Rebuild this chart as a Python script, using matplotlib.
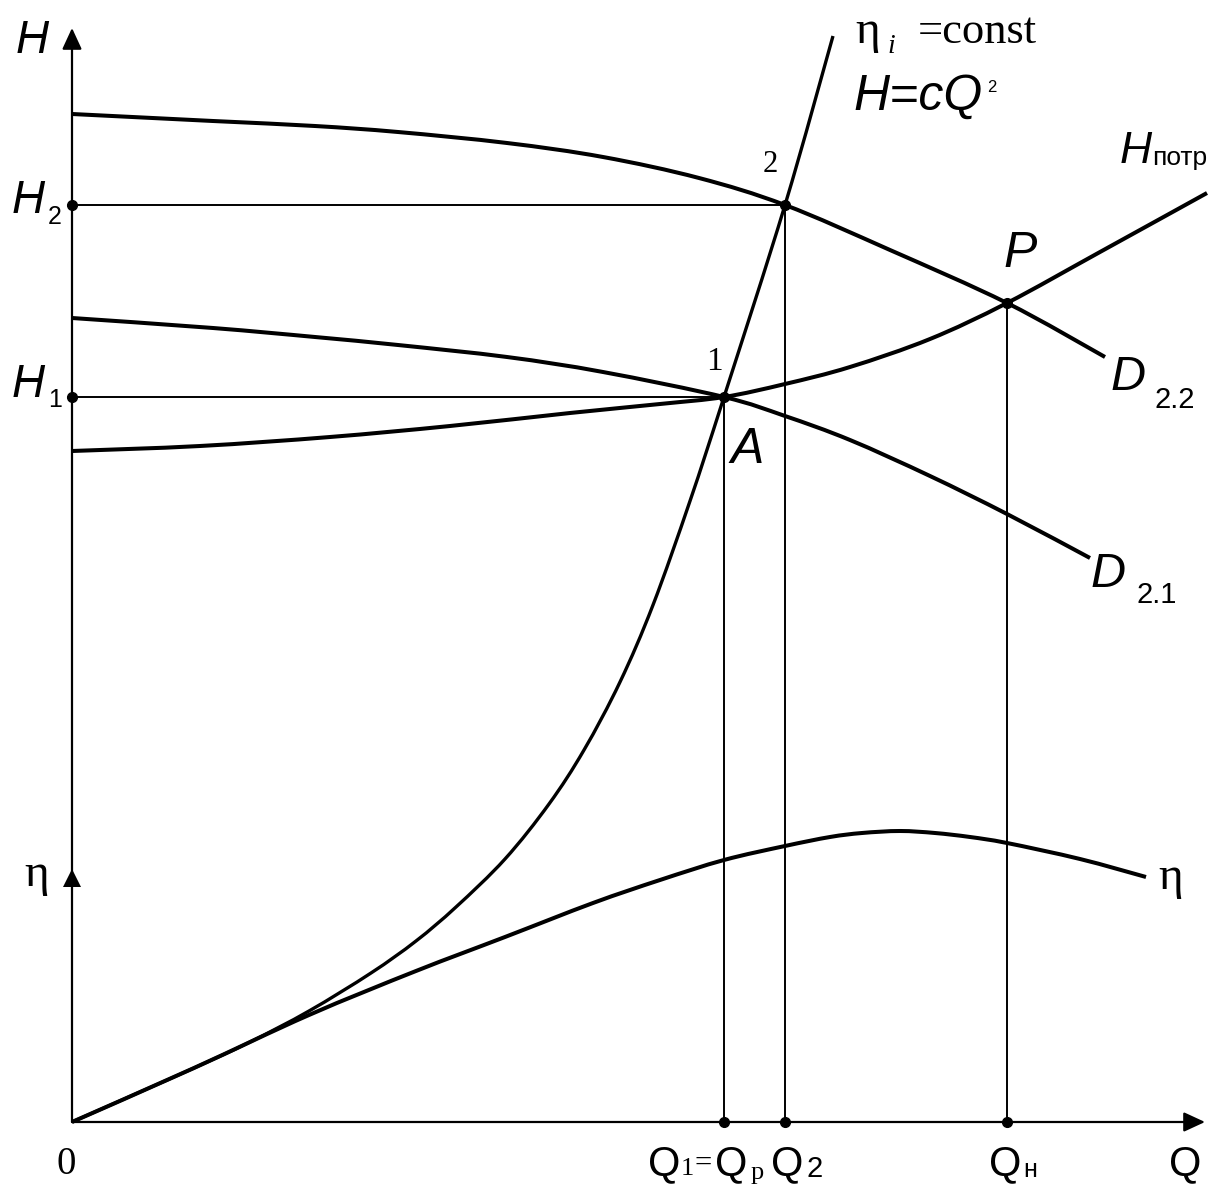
import matplotlib
matplotlib.use("Agg")
import matplotlib.pyplot as plt
from matplotlib.path import Path
from matplotlib.patches import PathPatch

# pump head curves for two impeller diameters (Q, H)
d22_q = [0, 141, 243, 326, 435, 531, 627, 713, 818, 935, 1033]
d22_h = [1008, 1001, 996, 990, 979, 965, 944, 917, 872, 819, 765]

d21_q = [0, 141, 243, 326, 435, 531, 652, 713, 778, 858, 935, 1018]
d21_h = [804, 794, 785, 777, 765, 750, 725, 706, 682, 646, 608, 564]

# required head of the network
hpotr_q = [0, 128, 258, 378, 498, 588, 652, 713, 778, 858, 935, 1028, 1135]
hpotr_h = [671, 676, 685, 696, 709, 718, 725, 738, 755, 783, 819, 870, 929]

# similarity parabola eta_i = const, H = cQ^2
sim_q = [0, 68, 122, 178, 237, 299, 344, 384, 433, 477, 512, 548, 581, 618, 652, 713, 761]
sim_h = [0, 30, 54, 80, 111, 149, 181, 215, 263, 318, 372, 440, 517, 621, 725, 917, 1086]

# efficiency curve
eta_q = [0, 122, 237, 344, 433, 521, 588, 652, 713, 758, 790, 828, 863, 898, 935, 1008, 1074]
eta_h = [0, 54, 107, 151, 185, 219, 242, 262, 276, 285, 289, 291, 289, 285, 279, 263, 245]

# operating points
q1, h1 = 652, 725
q2, h2 = 713, 917
qn, hp = 935, 819

SANS = "Liberation Sans"
SERIF = "Liberation Serif"

fig = plt.figure(figsize=(12.18, 11.84), dpi=100)
ax = fig.add_axes([0, 0, 1, 1])
ax.set_xlim(-72, 1146)
ax.set_ylim(-62, 1122)
ax.axis("off")


def smooth_curve(xs, ys, lw):
    # Catmull-Rom spline through the points, drawn as cubic Bezier segments
    pts = list(zip(xs, ys))
    n = len(pts)
    verts = [pts[0]]
    codes = [Path.MOVETO]
    for i in range(n - 1):
        p0 = pts[max(i - 1, 0)]
        p1 = pts[i]
        p2 = pts[i + 1]
        p3 = pts[min(i + 2, n - 1)]
        c1 = (p1[0] + (p2[0] - p0[0]) / 6, p1[1] + (p2[1] - p0[1]) / 6)
        c2 = (p2[0] - (p3[0] - p1[0]) / 6, p2[1] - (p3[1] - p1[1]) / 6)
        verts += [c1, c2, p2]
        codes += [Path.CURVE4] * 3
    ax.add_patch(PathPatch(Path(verts, codes), fill=False, lw=lw, ec="k",
                           capstyle="butt", joinstyle="round"))


# axes with arrows
arrow = dict(arrowstyle="-|>,head_length=0.65,head_width=0.3", color="k", lw=1.6,
             mutation_scale=20, shrinkA=0, shrinkB=0)
ax.annotate("", xy=(0, 1094), xytext=(0, 0), arrowprops=arrow)
ax.annotate("", xy=(1133, 0), xytext=(0, 0), arrowprops=arrow)
ax.plot([0], [244], marker="^", ms=13, color="k", mew=0)

# guide lines to the operating points
ax.plot([0, q2], [h2, h2], color="k", lw=1.4)
ax.plot([0, q1], [h1, h1], color="k", lw=1.4)
ax.plot([q1, q1], [0, h1], color="k", lw=1.4)
ax.plot([q2, q2], [0, h2], color="k", lw=1.4)
ax.plot([qn, qn], [0, hp], color="k", lw=1.4)

smooth_curve(d22_q, d22_h, 2.9)
smooth_curve(d21_q, d21_h, 2.9)
smooth_curve(hpotr_q, hpotr_h, 2.9)
smooth_curve(sim_q, sim_h, 2.4)
smooth_curve(eta_q, eta_h, 2.9)

ax.plot([0, 0, q1, q2, qn, q1, q2, qn], [h2, h1, h1, h2, hp, 0, 0, 0],
        "o", color="k", ms=7, zorder=5)


def label(x, y, s, size, family=SANS, style="normal"):
    ax.text(x, y, s, fontsize=size, family=family, style=style,
            ha="left", va="baseline")


# vertical axis labels
label(-56, 1069, "H", 33, style="italic")
label(-60, 909, "H", 33, style="italic")
label(-24, 898, "2", 18)
label(-60, 725, "H", 33, style="italic")
label(-24, 715, "1", 18)
label(-48, 236, "η", 34, SERIF)
label(-15, -52, "0", 28, SERIF)

# horizontal axis labels
label(576, -53, "Q", 30)
label(609, -53, "1", 19, SERIF)
label(623, -50, "=", 22, SERIF)
label(643, -53, "Q", 30)
label(679, -57, "р", 19, SERIF)
label(699, -53, "Q", 30)
label(734, -55, "2", 21)
label(917, -53, "Q", 30)
label(951, -55, "н", 18)
label(1097, -53, "Q", 30)

# point labels
label(634, 752, "1", 24, SERIF)
label(691, 950, "2", 22, SERIF)
label(658, 659, "A", 36, style="italic")
label(931, 855, "P", 36, style="italic")

# curve labels
label(783, 1079, "η", 34, SERIF)
label(815, 1069, "i", 20, SERIF, "italic")
label(846, 1079, "=const", 32, SERIF)
label(781, 1012, "H=cQ", 36, style="italic")
label(915, 1030, "2", 12)
label(1048, 959, "H", 32, style="italic")
label(1080, 957, "потр", 19)
label(1038, 732, "D", 35, style="italic")
label(1082, 714, "2.2", 21)
label(1019, 535, "D", 35, style="italic")
label(1065, 519, "2.1", 21)
label(1086, 233, "η", 34, SERIF)

fig.savefig("out.png", dpi=100)
